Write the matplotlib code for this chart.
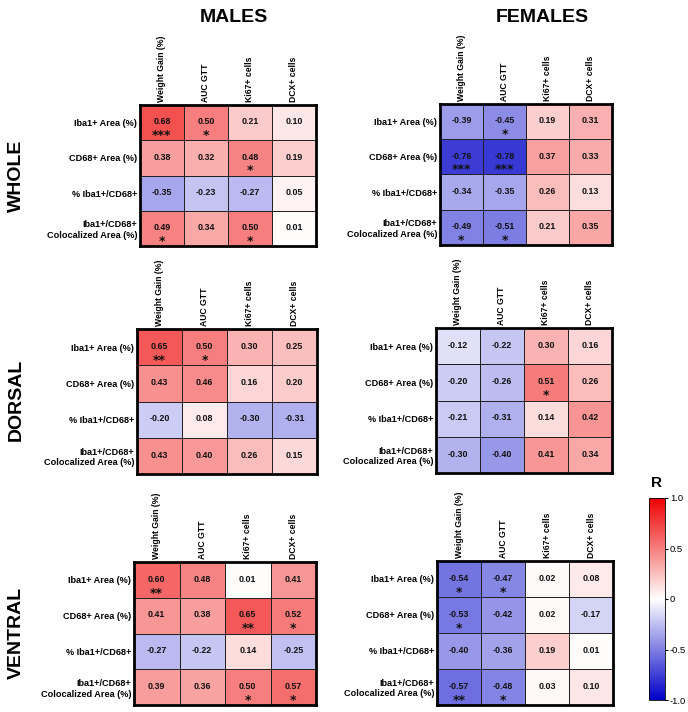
import matplotlib.pyplot as plt
import numpy as np
from matplotlib.colors import LinearSegmentedColormap

plt.rcParams['font.family'] = ['Liberation Sans', 'DejaVu Sans']

# ---- data ----
col_labels = ["Weight Gain (%)", "AUC GTT", "Ki67+ cells", "DCX+ cells"]
row_labels = ["Iba1+ Area (%)", "CD68+ Area (%)", "% Iba1+/CD68+",
              "Iba1+/CD68+\nColocalized Area (%)"]
sexes = ["MALES", "FEMALES"]
regions = ["WHOLE", "DORSAL", "VENTRAL"]

males_whole = [[0.68, 0.50, 0.21, 0.10],
               [0.38, 0.32, 0.48, 0.19],
               [-0.35, -0.23, -0.27, 0.05],
               [0.49, 0.34, 0.50, 0.01]]
males_whole_sig = [["***", "*", "", ""],
                   ["", "", "*", ""],
                   ["", "", "", ""],
                   ["*", "", "*", ""]]

females_whole = [[-0.39, -0.45, 0.19, 0.31],
                 [-0.76, -0.78, 0.37, 0.33],
                 [-0.34, -0.35, 0.26, 0.13],
                 [-0.49, -0.51, 0.21, 0.35]]
females_whole_sig = [["", "*", "", ""],
                     ["***", "***", "", ""],
                     ["", "", "", ""],
                     ["*", "*", "", ""]]

males_dorsal = [[0.65, 0.50, 0.30, 0.25],
                [0.43, 0.46, 0.16, 0.20],
                [-0.20, 0.08, -0.30, -0.31],
                [0.43, 0.40, 0.26, 0.15]]
males_dorsal_sig = [["**", "*", "", ""],
                    ["", "", "", ""],
                    ["", "", "", ""],
                    ["", "", "", ""]]

females_dorsal = [[-0.12, -0.22, 0.30, 0.16],
                  [-0.20, -0.26, 0.51, 0.26],
                  [-0.21, -0.31, 0.14, 0.42],
                  [-0.30, -0.40, 0.41, 0.34]]
females_dorsal_sig = [["", "", "", ""],
                      ["", "", "*", ""],
                      ["", "", "", ""],
                      ["", "", "", ""]]

males_ventral = [[0.60, 0.48, 0.01, 0.41],
                 [0.41, 0.38, 0.65, 0.52],
                 [-0.27, -0.22, 0.14, -0.25],
                 [0.39, 0.36, 0.50, 0.57]]
males_ventral_sig = [["**", "", "", ""],
                     ["", "", "**", "*"],
                     ["", "", "", ""],
                     ["", "", "*", "*"]]

females_ventral = [[-0.54, -0.47, 0.02, 0.08],
                   [-0.53, -0.42, 0.02, -0.17],
                   [-0.40, -0.36, 0.19, 0.01],
                   [-0.57, -0.48, 0.03, 0.10]]
females_ventral_sig = [["*", "*", "", ""],
                       ["*", "", "", ""],
                       ["", "", "", ""],
                       ["**", "*", "", ""]]

cbar_ticks = [1.0, 0.5, 0, -0.5, -1.0]
cbar_ticklabels = ["1.0", "0.5", "0", "-0.5", "-1.0"]

# ---- layout (pixels: left, top, right, bottom) ----
W, H = 688, 712
boxes = {
    ("MALES", "WHOLE"): (140, 105, 316, 246),
    ("FEMALES", "WHOLE"): (440, 104, 612, 245),
    ("MALES", "DORSAL"): (137, 329, 317, 474),
    ("FEMALES", "DORSAL"): (436, 328, 612, 473),
    ("MALES", "VENTRAL"): (134, 562, 316, 705),
    ("FEMALES", "VENTRAL"): (437, 561, 613, 705),
}
panels = {
    ("MALES", "WHOLE"): (males_whole, males_whole_sig),
    ("FEMALES", "WHOLE"): (females_whole, females_whole_sig),
    ("MALES", "DORSAL"): (males_dorsal, males_dorsal_sig),
    ("FEMALES", "DORSAL"): (females_dorsal, females_dorsal_sig),
    ("MALES", "VENTRAL"): (males_ventral, males_ventral_sig),
    ("FEMALES", "VENTRAL"): (females_ventral, females_ventral_sig),
}


def px_rect(l, t, r, b):
    return [l / W, 1 - b / H, (r - l) / W, (b - t) / H]


cmap = LinearSegmentedColormap.from_list("rwb", ["#0000c8", "#ffffff", "#ee0000"])

fig = plt.figure(figsize=(W / 100, H / 100), dpi=100)

for key, (vals, sig) in panels.items():
    ax = fig.add_axes(px_rect(*boxes[key]))
    v = np.array(vals)
    ax.pcolormesh(v, cmap=cmap, vmin=-1, vmax=1, edgecolors="#222222", linewidth=0.7)
    ax.set_xlim(0, 4)
    ax.set_ylim(4, 0)
    for i in range(4):
        for j in range(4):
            ax.text(j + 0.5, i + 0.48, f"{v[i, j]:.2f}", ha="center", va="center",
                    fontsize=6.4, fontweight="bold", color="#111111")
            if sig[i][j]:
                # stars a bit below the number
                ax.text(j + 0.5, i + 0.87, sig[i][j], ha="center", va="center",
                        fontsize=9, fontweight="bold", color="#111111",
                        family="DejaVu Sans")
    ax.set_xticks(np.arange(4) + 0.5)
    ax.set_yticks(np.arange(4) + 0.5)
    ax.xaxis.tick_top()
    ax.set_xticklabels(col_labels, rotation=90, fontsize=6.2, fontweight="bold")
    ax.set_yticklabels(row_labels, fontsize=6.6, fontweight="bold", multialignment="right")
    ax.tick_params(length=0, pad=2)
    for s in ax.spines.values():
        s.set_linewidth(2)

# column titles
fig.text(234 / W, 1 - 17 / H, "MALES", ha="center", va="center", fontsize=14, fontweight="bold")
fig.text(542 / W, 1 - 17 / H, "FEMALES", ha="center", va="center", fontsize=14, fontweight="bold")

# row titles
for name, y in zip(regions, [176, 400, 633]):
    fig.text(16 / W, 1 - y / H, name, ha="center", va="center", rotation=90,
             fontsize=14, fontweight="bold")

# colorbar
cax = fig.add_axes(px_rect(649, 498, 665, 700))
sm = plt.cm.ScalarMappable(cmap=cmap, norm=plt.Normalize(-1, 1))
cb = fig.colorbar(sm, cax=cax, ticks=cbar_ticks)
cb.ax.set_yticklabels(cbar_ticklabels, fontsize=6.8)
cb.ax.tick_params(length=2, width=0.8, pad=1.5)
cb.outline.set_linewidth(0.6)
fig.text(656 / W, 1 - 483 / H, "R", ha="center", va="center", fontsize=11, fontweight="bold")

fig.savefig("out.png", dpi=100)
